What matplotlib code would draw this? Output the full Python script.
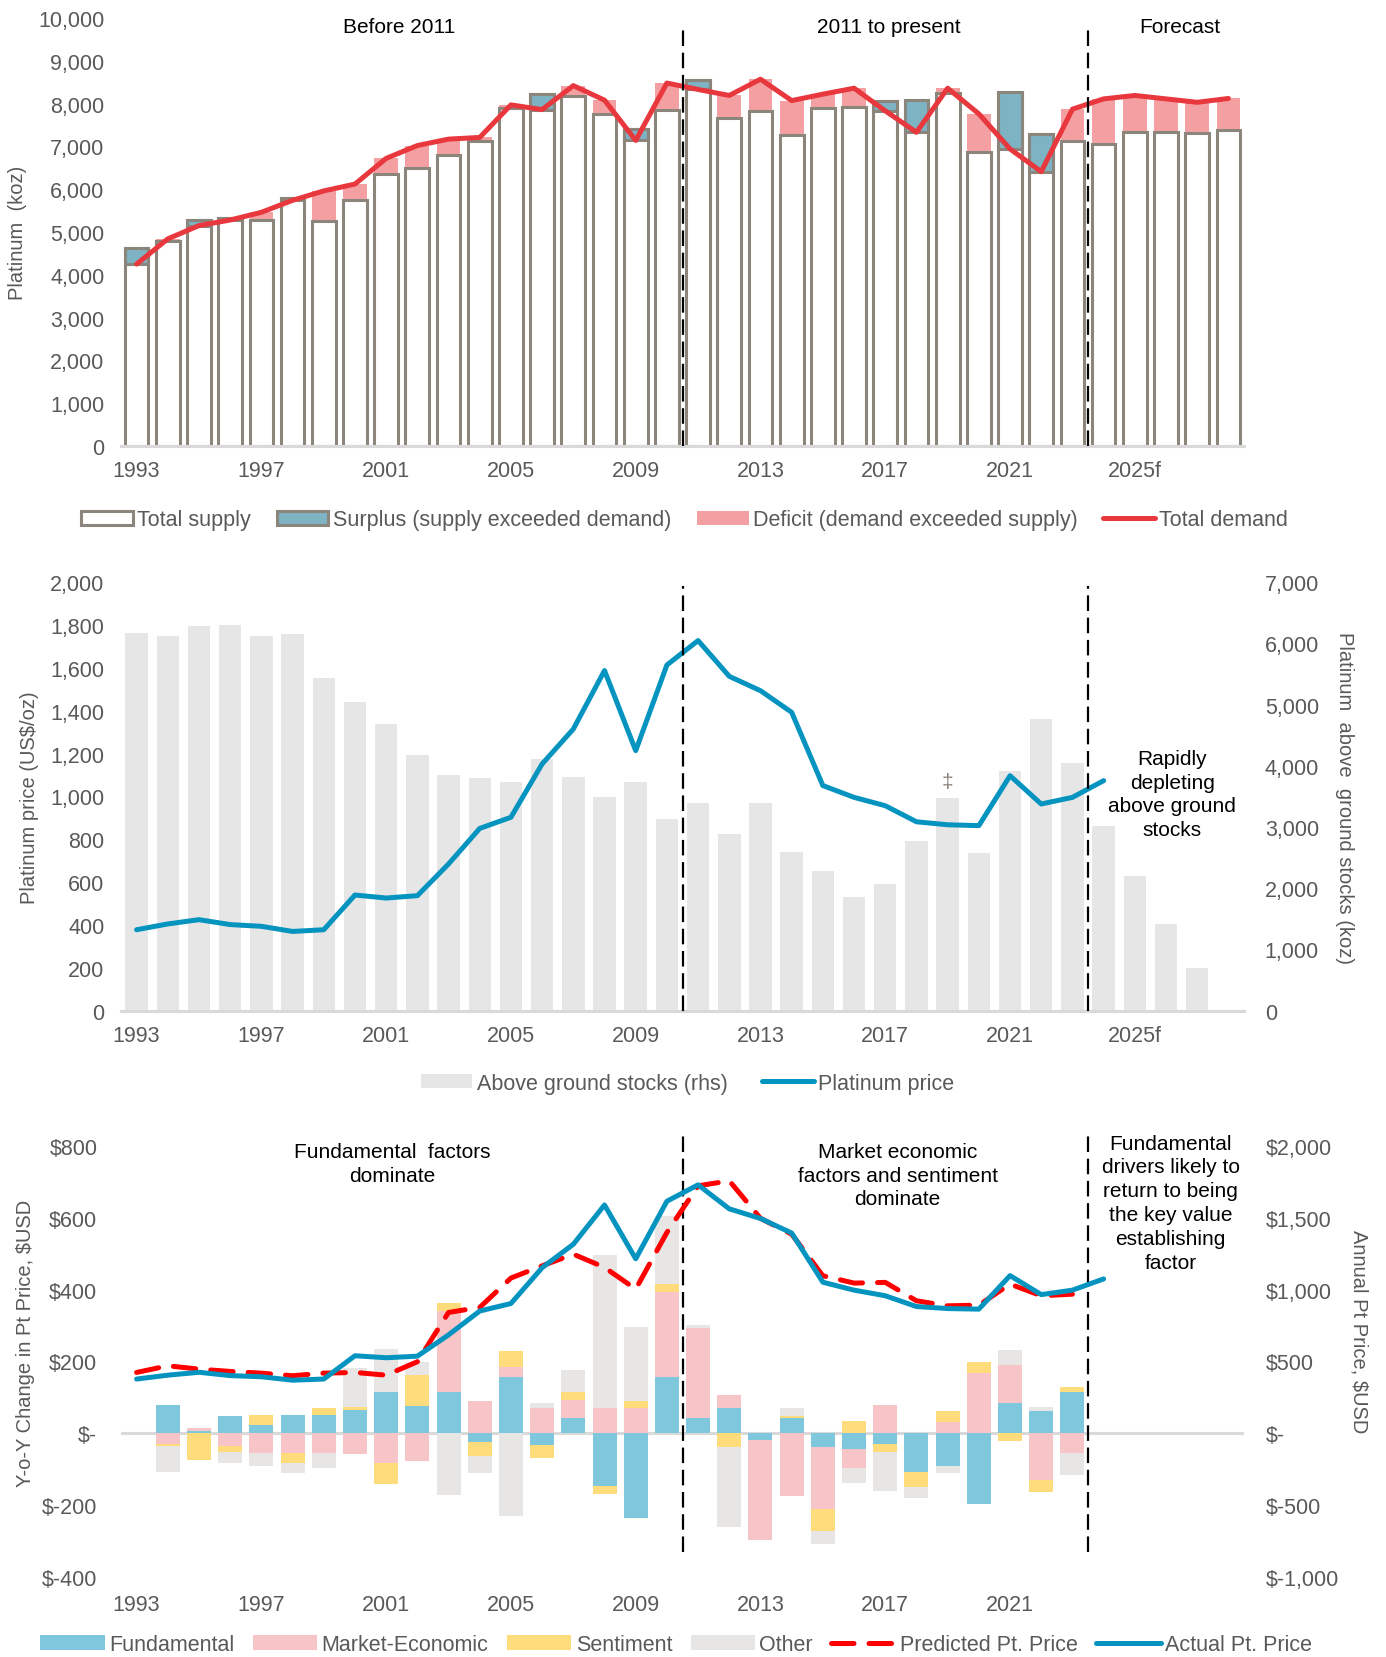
import matplotlib
matplotlib.use('Agg')
import matplotlib.pyplot as plt
import numpy as np

plt.rcParams['font.family'] = ['Liberation Sans', 'DejaVu Sans']

# ---------------- data ----------------
years = list(range(1993, 2029))
total_supply = [4620, 4780, 5290, 5330, 5280, 5790, 5260, 5740, 6360, 6500,
                6810, 7130, 7900, 8220, 8170, 7760, 7410, 7850, 8540, 7660,
                7830, 7270, 7900, 7930, 8050, 8080, 8250, 6880, 8280, 7290,
                7130, 7060, 7330, 7330, 7310, 7380]
total_demand = [4250, 4840, 5150, 5280, 5460, 5740, 5960, 6120, 6720, 7020,
                7170, 7210, 7970, 7860, 8420, 8080, 7140, 8480, 8330, 8190,
                8570, 8070, 8220, 8360, 7830, 7330, 8360, 7760, 6940, 6410,
                7870, 8110, 8190, 8110, 8030, 8120]

stock_years = list(range(1993, 2028))
above_ground_stocks = [6170, 6130, 6280, 6300, 6130, 6150, 5440, 5040, 4690, 4180,
                       3850, 3800, 3740, 4110, 3820, 3490, 3740, 3140, 3400, 2880,
                       3400, 2590, 2280, 1850, 2070, 2780, 3470, 2570, 3920, 4770,
                       4040, 3010, 2200, 1420, 690]

price_years = list(range(1993, 2025))
platinum_price = [378, 405, 425, 402, 394, 370, 378, 540, 526, 537,
                  685, 851, 903, 1152, 1315, 1588, 1214, 1614, 1728, 1561,
                  1494, 1393, 1051, 996, 957, 882, 868, 864, 1097, 965,
                  996, 1074]

pred_years = list(range(1993, 2024))
predicted_price = [424, 470, 447, 431, 419, 401, 419, 424, 405, 498,
                   841, 876, 1080, 1165, 1246, 1154, 1003, 1397, 1721, 1756,
                   1495, 1385, 1096, 1045, 1050, 922, 887, 892, 1038, 957,
                   968]

chg_years = list(range(1994, 2024))
fundamental = [80, 7, 49, 24, 52, 52, 66, 116, 75, 116,
               -23, 156, -32, 44, -147, -234, 156, 42, 70, -19,
               42, -37, -44, -30, -108, -90, -196, 84, 63, 116]
market_economic = [-30, 8, -36, -55, -55, -55, -57, -81, -76, 225,
                   91, 28, 70, 49, 70, 70, 238, 250, 37, -277,
                   -175, -173, -51, 79, 0, 32, 167, 107, -130, -55]
sentiment = [-5, -73, -15, 28, -28, 18, 7, -60, 87, 21,
             -39, 44, -36, 22, -21, 21, 21, 0, -37, 0,
             7, -62, 34, -21, -42, 31, 31, -22, -32, 12]
other = [-72, 0, -32, -35, -28, -42, 110, 119, 38, -171,
         -49, -229, 15, 61, 427, 204, 190, 9, -224, 0,
         21, -35, -42, -110, -30, -19, 0, 41, 11, -60]

xtick_years = [1993, 1997, 2001, 2005, 2009, 2013, 2017, 2021, 2025]
xtick_labels = ['1993', '1997', '2001', '2005', '2009', '2013', '2017', '2021', '2025f']
bottom_xtick_years = [1993, 1997, 2001, 2005, 2009, 2013, 2017, 2021]
bottom_xtick_labels = ['1993', '1997', '2001', '2005', '2009', '2013', '2017', '2021']

# ---------------- style ----------------
brown = '#8C857B'
teal = '#7DB3C3'
pink = '#F4A0A3'
red = '#E8383E'
blue = '#0494BF'
stock_gray = '#E6E6E6'
fund_blue = '#7FC7DD'
mkt_pink = '#F7C5C7'
sent_yellow = '#FEDC7C'
other_gray = '#E7E6E5'
pred_red = '#FF0000'
axis_gray = '#D9D9D9'
text_gray = '#595959'
FS = 15
TFS = 15.5
LS = 1.32

W, H = 1386, 1658
fig = plt.figure(figsize=(W / 100, H / 100), dpi=100)


def rect(l, t, r, b):
    return [l / W, 1 - b / H, (r - l) / W, (b - t) / H]


def style_axis(ax, bottom_spine=True):
    for s in ax.spines.values():
        s.set_visible(False)
    if bottom_spine:
        ax.spines['bottom'].set_visible(True)
        ax.spines['bottom'].set_color(axis_gray)
        ax.spines['bottom'].set_linewidth(2.2)
    ax.tick_params(length=0, labelsize=TFS, labelcolor=text_gray)


XL = (1992.5, 2028.5)
L, R = 121, 1244

# ---------------- top panel ----------------
ax1 = fig.add_axes(rect(L, 19, R, 447))
sup = np.array(total_supply)
dem = np.array(total_demand)
yrs = np.array(years)
bw = 0.76
surplus_mask = sup > dem
deficit_mask = dem > sup
b_sup = ax1.bar(yrs, sup, width=bw, color='white', edgecolor=brown, linewidth=2.2,
                zorder=2, label='Total supply')
b_surp = ax1.bar(yrs[surplus_mask], (sup - dem)[surplus_mask], bottom=dem[surplus_mask],
                 width=bw, color=teal, edgecolor=brown, linewidth=2.2, zorder=3,
                 label='Surplus (supply exceeded demand)')
b_def = ax1.bar(yrs[deficit_mask], (dem - sup)[deficit_mask], bottom=sup[deficit_mask],
                width=bw, color=pink, linewidth=0, zorder=1.5,
                label='Deficit (demand exceeded supply)')
l_dem, = ax1.plot(yrs, dem, color=red, lw=3.6, zorder=5, solid_capstyle='round',
                  solid_joinstyle='round', label='Total demand')
ax1.set_xlim(*XL)
ax1.set_ylim(0, 10000)
ax1.set_yticks(range(0, 10001, 1000))
ax1.set_yticklabels([f'{v:,}' for v in range(0, 10001, 1000)])
ax1.set_xticks(xtick_years)
ax1.set_xticklabels(xtick_labels)
style_axis(ax1)
ax1.tick_params(axis='y', pad=12)
ax1.tick_params(axis='x', pad=10)
ax1.set_ylabel('Platinum  (koz)', fontsize=14.5, color=text_gray)
ax1.yaxis.set_label_coords(-0.084, 0.5)
for xv in (2010.5, 2023.5):
    ax1.plot([xv, xv], [0, 9850], color='black', lw=1.6, dashes=(7, 3), zorder=6)
ax1.text(2001.4, 9790, 'Before 2011', ha='center', va='center', fontsize=FS, color='black')
ax1.text(2017.1, 9790, '2011 to present', ha='center', va='center', fontsize=FS, color='black')
ax1.text(2026.45, 9790, 'Forecast', ha='center', va='center', fontsize=FS, color='black')
fig.legend([b_sup, b_surp, b_def, l_dem],
           ['Total supply', 'Surplus (supply exceeded demand)',
            'Deficit (demand exceeded supply)', 'Total demand'], loc='center',
           bbox_to_anchor=(0.494, 0.6858), bbox_transform=fig.transFigure,
           ncol=4, frameon=False, fontsize=TFS, handlelength=2.4, handleheight=0.65,
           handletextpad=0.2, columnspacing=1.2, labelcolor=text_gray)

# ---------------- middle panel ----------------
ax2 = fig.add_axes(rect(L, 583.3, R, 1011.7))
ax2r = ax2.twinx()
ax2r.bar(stock_years, above_ground_stocks, width=0.72, color=stock_gray,
         linewidth=0, zorder=1, label='Above ground stocks (rhs)')
ax2.plot(price_years, platinum_price, color=blue, lw=3.6, zorder=5,
         solid_joinstyle='round', solid_capstyle='round', label='Platinum price')
ax2.set_zorder(ax2r.get_zorder() + 1)
ax2.patch.set_visible(False)
ax2.set_xlim(*XL)
ax2r.set_xlim(*XL)
ax2.set_ylim(0, 2000)
ax2r.set_ylim(0, 7000)
ax2.set_yticks(range(0, 2001, 200))
ax2.set_yticklabels([f'{v:,}' for v in range(0, 2001, 200)])
ax2r.set_yticks(range(0, 7001, 1000))
ax2r.set_yticklabels([f'{v:,}' for v in range(0, 7001, 1000)])
ax2.set_xticks(xtick_years)
ax2.set_xticklabels(xtick_labels)
style_axis(ax2)
style_axis(ax2r)
ax2.tick_params(axis='y', pad=12)
ax2.tick_params(axis='x', pad=10)
ax2r.tick_params(axis='y', pad=15)
ax2.set_ylabel('Platinum price (US$/oz)', fontsize=14.5, color=text_gray)
ax2.yaxis.set_label_coords(-0.073, 0.5)
ax2r.set_ylabel('Platinum  above  ground stocks (koz)', fontsize=14.5,
                color=text_gray, rotation=270, va='bottom')
ax2r.yaxis.set_label_coords(1.081, 0.5)
for xv in (2010.5, 2023.5):
    ax2.plot([xv, xv], [0, 1985], color='black', lw=1.6, dashes=(7, 3), zorder=6)
ax2.text(2019, 1068, '\u2021', ha='center', va='center', fontsize=FS, color=brown)
ax2.text(2026.2, 1012, 'Rapidly\ndepleting\nabove ground\nstocks', ha='center',
         va='center', fontsize=FS, color='black', linespacing=LS)
h_a, l_a = ax2r.get_legend_handles_labels()
h_b, l_b = ax2.get_legend_handles_labels()
fig.legend(h_a + h_b, l_a + l_b, loc='center',
           bbox_to_anchor=(0.496, 0.3462), bbox_transform=fig.transFigure,
           ncol=2, frameon=False, fontsize=TFS, handlelength=2.4, handleheight=0.65,
           handletextpad=0.2, columnspacing=1.6, labelcolor=text_gray)

# ---------------- bottom panel ----------------
ax3 = fig.add_axes(rect(L, 1146.7, R, 1578.3))
ax3r = ax3.twinx()
ax3.axhline(0, color=axis_gray, lw=2.2, zorder=0.5)
cy = np.array(chg_years)
pos_base = np.zeros(len(cy))
neg_base = np.zeros(len(cy))
for vals, col, lab in ((fundamental, fund_blue, 'Fundamental'),
                       (market_economic, mkt_pink, 'Market-Economic'),
                       (sentiment, sent_yellow, 'Sentiment'),
                       (other, other_gray, 'Other')):
    v = np.array(vals, dtype=float)
    pv = np.where(v > 0, v, 0)
    nv = np.where(v < 0, v, 0)
    ax3.bar(cy, pv, bottom=pos_base, width=0.77, color=col, linewidth=0, zorder=2, label=lab)
    ax3.bar(cy, nv, bottom=neg_base, width=0.77, color=col, linewidth=0, zorder=2)
    pos_base += pv
    neg_base += nv
ax3r.plot(pred_years, predicted_price, color=pred_red, lw=3.6, dashes=(4.5, 3.0),
          dash_capstyle='round', zorder=4, label='Predicted Pt. Price')
ax3r.plot(price_years, platinum_price, color=blue, lw=3.6, zorder=5,
          solid_joinstyle='round', solid_capstyle='round', label='Actual Pt. Price')
ax3.set_xlim(*XL)
ax3r.set_xlim(*XL)
ax3.set_ylim(-400, 800)
ax3r.set_ylim(-1000, 2000)
lt = list(range(-400, 801, 200))
ax3.set_yticks(lt)
ax3.set_yticklabels(['$-' if v == 0 else f'${v:,}' for v in lt])
rt = list(range(-1000, 2001, 500))
ax3r.set_yticks(rt)
ax3r.set_yticklabels(['$-' if v == 0 else f'${v:,}' for v in rt])
ax3.set_xticks(bottom_xtick_years)
ax3.set_xticklabels(bottom_xtick_labels)
style_axis(ax3, bottom_spine=False)
style_axis(ax3r, bottom_spine=False)
ax3.tick_params(axis='y', pad=17)
ax3.tick_params(axis='x', pad=12)
ax3r.tick_params(axis='y', pad=16)
ax3.set_ylabel('Y-o-Y Change in Pt Price, $USD', fontsize=14.5, color=text_gray)
ax3.yaxis.set_label_coords(-0.077, 0.545)
ax3r.set_ylabel('Annual Pt Price, $USD', fontsize=14.5, color=text_gray,
                rotation=270, va='bottom')
ax3r.yaxis.set_label_coords(1.094, 0.571)
for xv in (2010.5, 2023.5):
    ax3.plot([xv, xv], [-330, 840], color='black', lw=1.6, dashes=(7, 3),
             zorder=6, clip_on=False)
ax3.text(2001.2, 751, 'Fundamental  factors\ndominate', ha='center', va='center',
         fontsize=FS, color='black', linespacing=LS)
ax3.text(2017.4, 718, 'Market economic\nfactors and sentiment\ndominate', ha='center',
         va='center', fontsize=FS, color='black', linespacing=LS)
ax3.text(2026.15, 642, 'Fundamental\ndrivers likely to\nreturn to being\nthe key value\n'
         'establishing\nfactor', ha='center', va='center', fontsize=FS, color='black',
         linespacing=LS)
h_a, l_a = ax3.get_legend_handles_labels()
h_b, l_b = ax3r.get_legend_handles_labels()
fig.legend(h_a + h_b, l_a + l_b, loc='center',
           bbox_to_anchor=(0.488, 0.0075), bbox_transform=fig.transFigure,
           ncol=6, frameon=False, fontsize=TFS, handlelength=3.0, handleheight=0.65,
           handletextpad=0.2, columnspacing=0.85, labelcolor=text_gray)

fig.savefig('out.png', dpi=100)
